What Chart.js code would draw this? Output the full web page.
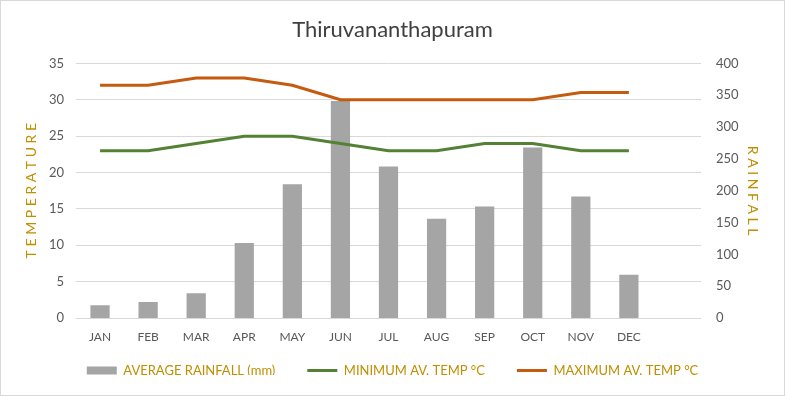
<!DOCTYPE html>
<html>
<head>
<meta charset="utf-8">
<script src="https://cdn.jsdelivr.net/npm/chart.js@4"></script>
<style>
  html, body { margin: 0; padding: 0; background: #fff; }
  #wrap { width: 785px; height: 396px; box-sizing: border-box; border: 1px solid #d9d9d9; }
</style>
</head>
<body>
<div id="wrap"><canvas id="myChart" width="783" height="394"></canvas></div>
<script>
// monthly climate for Thiruvananthapuram
var months = ['JAN', 'FEB', 'MAR', 'APR', 'MAY', 'JUN', 'JUL', 'AUG', 'SEP', 'OCT', 'NOV', 'DEC'];
var rainfall = [20, 25, 39, 118, 210, 341, 238, 156, 175, 268, 191, 68];
var minTemp = [23, 23, 24, 25, 25, 24, 23, 23, 24, 24, 23, 23];
var maxTemp = [32, 32, 33, 33, 32, 30, 30, 30, 30, 30, 31, 31];
var tempTicks = [0, 35, 5];      // min, max, step
var rainTicks = [0, 400, 50];

var gold = '#BF8F00';
var tickColor = '#595959';
var font = 'Lato';

// pull the legend up closer to the month labels
var legendNudge = {
    id: 'legendNudge',
    afterLayout: function (chart) {
        var lg = chart.legend;
        if (!lg) return;
        lg.top -= 20;
        lg.bottom -= 20;
    }
};

document.addEventListener('DOMContentLoaded', function () {
    var ctx = document.getElementById('myChart').getContext('2d');
    new Chart(ctx, {
        type: 'bar',
        data: {
            // excel leaves one empty slot after DEC
            labels: months.concat(['']),
            datasets: [{
                type: 'bar',
                label: 'AVERAGE RAINFALL (mm)',
                data: rainfall,
                yAxisID: 'y1',
                backgroundColor: '#A5A5A5',
                barPercentage: 0.8,
                categoryPercentage: 0.5,
                pointStyle: 'rect',
                order: 3
            }, {
                type: 'line',
                label: 'MINIMUM AV. TEMP °C',
                data: minTemp,
                yAxisID: 'y',
                borderColor: '#548235',
                backgroundColor: '#548235',
                borderWidth: 3,
                pointRadius: 0,
                pointStyle: 'line',
                tension: 0,
                order: 2
            }, {
                type: 'line',
                label: 'MAXIMUM AV. TEMP °C',
                data: maxTemp,
                yAxisID: 'y',
                borderColor: '#C55A11',
                backgroundColor: '#C55A11',
                borderWidth: 3,
                pointRadius: 0,
                pointStyle: 'line',
                tension: 0,
                order: 1
            }]
        },
        plugins: [legendNudge],
        options: {
            responsive: false,
            animation: false,
            layout: { padding: 0 },
            plugins: {
                title: {
                    display: true,
                    text: 'Thiruvananthapuram',
                    color: '#404040',
                    font: { family: font, size: 22, weight: 'normal' },
                    padding: { top: 16, bottom: 20 }
                },
                legend: {
                    position: 'bottom',
                    maxHeight: 43,
                    labels: {
                        usePointStyle: true,
                        pointStyleWidth: 30,
                        boxHeight: 8,
                        color: gold,
                        font: { family: font, size: 13 },
                        padding: 32,
                        sort: function (a, b) { return a.datasetIndex - b.datasetIndex; }
                    }
                },
                tooltip: { enabled: false }
            },
            scales: {
                x: {
                    grid: { display: false, drawTicks: false },
                    border: { display: false },
                    ticks: { color: tickColor, font: { family: font, size: 12 }, padding: 12 },
                    afterFit: function (s) { s.height = 34; }
                },
                y: {
                    position: 'left',
                    min: tempTicks[0],
                    max: tempTicks[1],
                    ticks: { stepSize: tempTicks[2], color: tickColor, font: { family: font, size: 13 }, padding: 12 },
                    grid: { color: '#d9d9d9', drawTicks: false },
                    border: { display: false },
                    title: {
                        display: true,
                        text: 'T E M P E R A T U R E',
                        color: gold,
                        font: { family: font, size: 14 },
                        padding: { top: 22, bottom: 0 }
                    },
                    afterFit: function (s) { s.width = 75; }
                },
                y1: {
                    position: 'right',
                    min: rainTicks[0],
                    max: rainTicks[1],
                    ticks: { stepSize: rainTicks[2], color: tickColor, font: { family: font, size: 13 }, padding: 15 },
                    grid: { display: false, drawTicks: false },
                    border: { display: false },
                    title: {
                        display: true,
                        text: 'R A I N F A L L',
                        color: gold,
                        font: { family: font, size: 14 },
                        padding: { top: 23, bottom: 0 }
                    },
                    afterFit: function (s) { s.width = 83; }
                }
            }
        }
    });
});
</script>
</body>
</html>
